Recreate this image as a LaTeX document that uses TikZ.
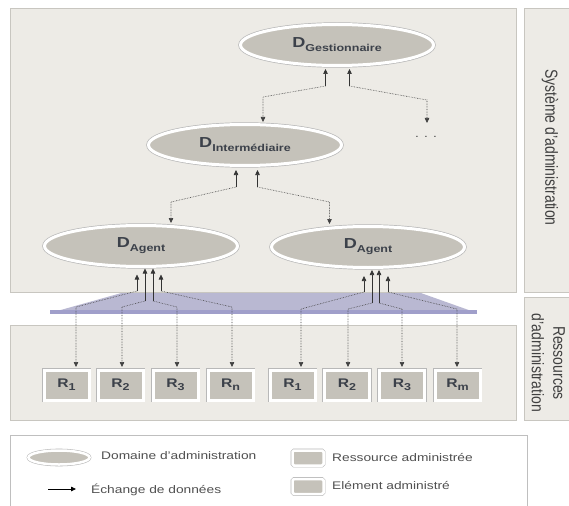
\documentclass[tikz,border=0pt]{standalone}
\usepackage{fontspec}
\setmainfont{Liberation Sans}
\usepackage{graphicx}
\usetikzlibrary{shapes.geometric,arrows.meta,shadows,calc}
\definecolor{panelfill}{HTML}{EDEBE6}
\definecolor{paneldraw}{HTML}{C8C6C0}
\definecolor{domfill}{HTML}{C5C2BA}
\definecolor{labtext}{HTML}{3C414A}
\definecolor{trapfill}{HTML}{B9B8D2}
\definecolor{trapline}{HTML}{A09FCA}
\definecolor{legtextcol}{HTML}{505050}
\definecolor{sidecol}{HTML}{404040}
\newcommand{\myWide}[1]{\scalebox{1.25}[1]{#1}}
\newcommand{\dlabel}[1]{\raisebox{3pt}{\myWide{\bfseries\fontsize{14.5}{14}\selectfont D\fontsize{10}{10}\selectfont\raisebox{-4pt}{#1}}}}
\newcommand{\rlabel}[1]{\myWide{\bfseries\fontsize{12.5}{12}\selectfont R\fontsize{10}{10}\selectfont\raisebox{-3pt}{#1}}}
\begin{document}
\begin{tikzpicture}[x=1pt,y=-1pt,
  panel/.style={draw=paneldraw, line width=0.6pt, fill=panelfill,
    drop shadow={shadow xshift=1pt,shadow yshift=-1pt,opacity=0.35}},
  legendbox/.style={draw=black!25, line width=1pt, fill=white,
    drop shadow={shadow xshift=1pt,shadow yshift=-1pt,opacity=0.3}},
  rim/.style={preaction={draw=black!28, line width=#1}},
  domnode/.style={ellipse, draw=white, line width=3pt, fill=domfill, rim=4.4pt,
    minimum width=193pt, minimum height=41pt, inner sep=0pt, text=labtext,
    drop shadow={shadow xshift=0.8pt,shadow yshift=-1.2pt,opacity=0.35}},
  resbox/.style={rectangle, draw=white, line width=3pt, fill=domfill, rim=4.4pt,
    minimum width=45pt, minimum height=30pt, inner sep=0pt, text=labtext,
    drop shadow={shadow xshift=0.8pt,shadow yshift=-1.2pt,opacity=0.35}},
  legdomain/.style={ellipse, draw=white, line width=2.5pt, fill=domfill, rim=3.6pt,
    minimum width=61pt, minimum height=14pt, inner sep=0pt,
    drop shadow={shadow xshift=0.6pt,shadow yshift=-1pt,opacity=0.35}},
  legbox/.style={rectangle, rounded corners=1.5pt, draw=white, line width=2.5pt, fill=domfill, rim=3.6pt,
    minimum width=31pt, minimum height=15pt, inner sep=0pt,
    drop shadow={shadow xshift=0.6pt,shadow yshift=-1pt,opacity=0.35}},
  legtext/.style={text=legtextcol, font=\fontsize{11}{13}\selectfont, inner sep=0pt, anchor=west},
  sidetext/.style={text=sidecol, font=\fontsize{14}{18}\selectfont, rotate=-90, inner sep=0pt},
  dotstext/.style={text=black!70, font=\fontsize{11}{11}\selectfont, inner sep=0pt},
  stub/.style={draw=black!80, line width=0.6pt},
  dotc/.style={draw=black!75, line width=0.6pt, densely dotted},
  uparr/.style={-{Triangle[width=4.5pt,length=5pt]}, shorten >=#1},
  uparr/.default=1pt,
  legarrow/.style={draw=black, line width=0.8pt, -{Triangle[width=4.5pt,length=5pt]}}
]
\useasboundingbox (0,0) rectangle (569,505);
\fill[white] (0,0) rectangle (569,505);

% distribution band
\fill[trapfill] (50,313) -- (125,292) -- (418,292) -- (477,313) -- cycle;
\fill[trapline] (50,310) rectangle (477,313.5);

% panels
\path[panel] (10,8) rectangle (516,292);
\path[panel] (524,8) rectangle (585,292);
\path[panel] (10,325) rectangle (516,420);
\path[panel] (524,297) rectangle (585,420);
\path[legendbox] (10,435) rectangle (527,520);

% side labels
\node[sidetext] (sys) at (550,147.5) {\scalebox{1}[1.25]{Système d'administration}};
\node[sidetext] (res) at (547,363) {\scalebox{1}[1.2]{\begin{tabular}{@{}c@{}}Ressources\\d'administration\end{tabular}}};

% domains
\node[domnode] (gest) at (337,45) {\dlabel{Gestionnaire}};
\node[domnode] (inter) at (245,145) {\dlabel{Intermédiaire}};
\node[domnode] (lagent) at (141,246) {\dlabel{Agent}};
\node[domnode] (ragent) at (368,247) {\dlabel{Agent}};
\node[dotstext] (dots) at (426,137) {\myWide{. . .}};

% resources
\node[resbox] (lr1) at (66.5,385) {\rlabel{1}};
\node[resbox] (lr2) at (120.5,385) {\rlabel{2}};
\node[resbox] (lr3) at (175.5,385) {\rlabel{3}};
\node[resbox] (lrn) at (230.5,385) {\rlabel{n}};
\node[resbox] (rr1) at (292.5,385) {\rlabel{1}};
\node[resbox] (rr2) at (347,385) {\rlabel{2}};
\node[resbox] (rr3) at (402,385) {\rlabel{3}};
\node[resbox] (rrm) at (457.5,385) {\rlabel{m}};

% connectors gestionnaire
\coordinate (g1e) at (325.5,86); \coordinate (g1d) at (263,97);
\draw[stub,uparr=2pt] (g1e) -- (g1e |- gest.south);
\draw[dotc,uparr] (g1e) -- (g1d) -- (g1d |- inter.north);
\coordinate (g2e) at (349.5,86); \coordinate (g2d) at (427,100); \coordinate (g2end) at (427,123);
\draw[stub,uparr=2pt] (g2e) -- (g2e |- gest.south);
\draw[dotc,uparr=0pt] (g2e) -- (g2d) -- (g2end);

% connectors intermediaire
\coordinate (i1e) at (236,187); \coordinate (i1d) at (171,202);
\draw[stub,uparr=3pt] (i1e) -- (i1e |- inter.south);
\draw[dotc,uparr] (i1e) -- (i1d) -- (i1d |- lagent.north);
\coordinate (i2e) at (257.5,187); \coordinate (i2d) at (329.5,202);
\draw[stub,uparr=3pt] (i2e) -- (i2e |- inter.south);
\draw[dotc,uparr] (i2e) -- (i2d) -- (i2d |- ragent.north);

% connectors left agent
\coordinate (a1e) at (137,291); \coordinate (a1d) at (76,307);
\coordinate (a2e) at (145,301); \coordinate (a2d) at (122,307);
\coordinate (a3e) at (153,301); \coordinate (a3d) at (177,307);
\coordinate (a4e) at (161,291); \coordinate (a4d) at (232,307);
\draw[stub,uparr=6.5pt] (a1e) -- (a1e |- lagent.south);
\draw[stub,uparr=0.5pt] (a2e) -- (a2e |- lagent.south);
\draw[stub,uparr=0.5pt] (a3e) -- (a3e |- lagent.south);
\draw[stub,uparr=6.5pt] (a4e) -- (a4e |- lagent.south);
\draw[dotc,uparr=1.5pt] (a1e) -- (a1d) -- (a1d |- lr1.north);
\draw[dotc,uparr=1.5pt] (a2e) -- (a2d) -- (a2d |- lr2.north);
\draw[dotc,uparr=1.5pt] (a3e) -- (a3d) -- (a3d |- lr3.north);
\draw[dotc,uparr=1.5pt] (a4e) -- (a4d) -- (a4d |- lrn.north);

% connectors right agent
\coordinate (b1e) at (364,292); \coordinate (b1d) at (301,309);
\coordinate (b2e) at (372,303); \coordinate (b2d) at (348,309);
\coordinate (b3e) at (379,303); \coordinate (b3d) at (402,309);
\coordinate (b4e) at (388,292); \coordinate (b4d) at (457,309);
\draw[stub,uparr=7pt] (b1e) -- (b1e |- ragent.south);
\draw[stub,uparr=1pt] (b2e) -- (b2e |- ragent.south);
\draw[stub,uparr=1pt] (b3e) -- (b3e |- ragent.south);
\draw[stub,uparr=7pt] (b4e) -- (b4e |- ragent.south);
\draw[dotc,uparr=1.5pt] (b1e) -- (b1d) -- (b1d |- rr1.north);
\draw[dotc,uparr=1.5pt] (b2e) -- (b2d) -- (b2d |- rr2.north);
\draw[dotc,uparr=1.5pt] (b3e) -- (b3d) -- (b3d |- rr3.north);
\draw[dotc,uparr=1.5pt] (b4e) -- (b4d) -- (b4d |- rrm.north);

% legend
\node[legdomain] (legd) at (59,457.5) {};
\node[legtext] (legdt) at (101,456) {\myWide{Domaine d'administration}};
\coordinate (legas) at (48,489); \coordinate (legae) at (76,489);
\draw[legarrow] (legas) -- (legae);
\node[legtext] (legat) at (91,490) {\myWide{Échange de données}};
\node[legbox] (legr) at (308,458) {};
\node[legtext] (legrt) at (332,457) {\myWide{Ressource administrée}};
\node[legbox] (lege) at (308,486.5) {};
\node[legtext] (leget) at (332,485) {\myWide{Elément administré}};
\end{tikzpicture}
\end{document}
